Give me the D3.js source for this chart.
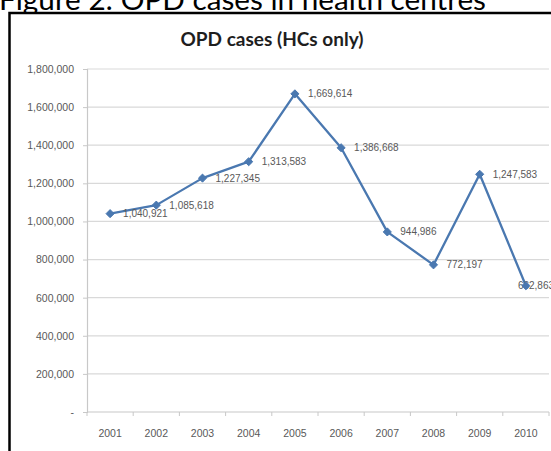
<!DOCTYPE html>
<html>
<head>
<meta charset="utf-8">
<script src="https://cdn.jsdelivr.net/npm/d3@7/dist/d3.min.js"></script>
<style>
  html, body { margin: 0; padding: 0; background: #fff; }
  svg { display: block; }
</style>
</head>
<body>
<svg id="chart" width="551" height="451"></svg>
<script>
// OPD cases recorded in health centres, 2001-2010
const years = ["2001", "2002", "2003", "2004", "2005", "2006", "2007", "2008", "2009", "2010"];
const opdCases = [1040921, 1085618, 1227345, 1313583, 1669614, 1386668, 944986, 772197, 1247583, 662863];
const yTicks = [0, 200000, 400000, 600000, 800000, 1000000, 1200000, 1400000, 1600000, 1800000];

const svg = d3.select("#chart");
const W = 551, H = 451;

const plot = { left: 87, right: 549, top: 69, bottom: 412 };
const lineColor = "#4a78b0";
const textColor = "#595959";
const gridColor = "#d9d9d9";

// Document heading above the chart frame (runs past the page top)
svg.append("text")
  .attr("x", -1)
  .attr("y", 10)
  .attr("font-family", "Lato, 'Open Sans', sans-serif")
  .attr("font-size", 28)
  .attr("textLength", 487)
  .attr("lengthAdjust", "spacingAndGlyphs")
  .attr("fill", "#000")
  .text("Figure 2: OPD cases in health centres");

// Chart frame
svg.append("rect")
  .attr("x", 9.5).attr("y", 13)
  .attr("width", W + 20).attr("height", H + 20)
  .attr("fill", "#fff")
  .attr("stroke", "#000")
  .attr("stroke-width", 2.5);

// Chart title
svg.append("text")
  .attr("x", 272)
  .attr("y", 46)
  .attr("text-anchor", "middle")
  .attr("font-family", "Lato, 'Open Sans', sans-serif")
  .attr("font-weight", "bold")
  .attr("font-size", 19)
  .attr("fill", "#1e1e1e")
  .text("OPD cases (HCs only)");

const x = d3.scalePoint()
  .domain(years)
  .range([plot.left, plot.right])
  .padding(0.5);

const y = d3.scaleLinear()
  .domain([0, 1800000])
  .range([plot.bottom, plot.top]);

// Horizontal gridlines
svg.append("g")
  .selectAll("line")
  .data(yTicks.filter(d => d > 0))
  .join("line")
  .attr("x1", plot.left).attr("x2", plot.right)
  .attr("y1", d => y(d)).attr("y2", d => y(d))
  .attr("stroke", gridColor)
  .attr("stroke-width", 1.2);

// Y axis with accounting-style labels ("-" for zero)
const fmt = d3.format(",");
const yAxis = d3.axisLeft(y)
  .tickValues(yTicks)
  .tickSize(4)
  .tickPadding(9)
  .tickFormat(d => d === 0 ? "-" : fmt(d));

const gy = svg.append("g")
  .attr("transform", `translate(${plot.left},0)`)
  .call(yAxis);
gy.select(".domain").attr("stroke", "#c8c8c8").attr("stroke-width", 1.2);
gy.selectAll(".tick line").attr("stroke", "#c8c8c8");
gy.selectAll(".tick text")
  .attr("font-family", "'Liberation Sans', Arial, sans-serif")
  .attr("font-size", 10.5)
  .attr("fill", textColor);

// X axis: category labels, tick marks between categories
const step = x.step();
const gx = svg.append("g")
  .attr("transform", `translate(0,${plot.bottom})`);
gx.append("line")
  .attr("x1", plot.left).attr("x2", plot.right)
  .attr("stroke", "#c8c8c8").attr("stroke-width", 1.2);
gx.selectAll("line.tk")
  .data(d3.range(years.length + 1))
  .join("line")
  .attr("class", "tk")
  .attr("x1", i => plot.left + i * step)
  .attr("x2", i => plot.left + i * step)
  .attr("y1", 0).attr("y2", 4)
  .attr("stroke", "#c8c8c8");
gx.selectAll("text")
  .data(years)
  .join("text")
  .attr("x", d => x(d))
  .attr("y", 25)
  .attr("text-anchor", "middle")
  .attr("font-family", "'Liberation Sans', Arial, sans-serif")
  .attr("font-size", 10.5)
  .attr("fill", textColor)
  .text(d => d);

// Data series
const series = years.map((yr, i) => ({ year: yr, value: opdCases[i] }));

svg.append("path")
  .datum(series)
  .attr("fill", "none")
  .attr("stroke", lineColor)
  .attr("stroke-width", 2.3)
  .attr("stroke-linejoin", "round")
  .attr("d", d3.line().x(d => x(d.year)).y(d => y(d.value)));

// Value labels to the right of each point; the last one is pulled back under its marker
svg.append("g")
  .selectAll("text")
  .data(series)
  .join("text")
  .attr("x", (d, i) => x(d.year) + (i === series.length - 1 ? -8 : 13))
  .attr("y", d => y(d.value))
  .attr("dy", "0.35em")
  .attr("font-family", "'Liberation Sans', Arial, sans-serif")
  .attr("font-size", 10)
  .attr("fill", textColor)
  .text(d => fmt(d.value));

// Diamond markers
svg.append("g")
  .selectAll("path")
  .data(series)
  .join("path")
  .attr("transform", d => `translate(${x(d.year)},${y(d.value)})`)
  .attr("d", d3.symbol().type(d3.symbolDiamond2).size(42))
  .attr("fill", lineColor)
  .attr("stroke", lineColor);
</script>
</body>
</html>
